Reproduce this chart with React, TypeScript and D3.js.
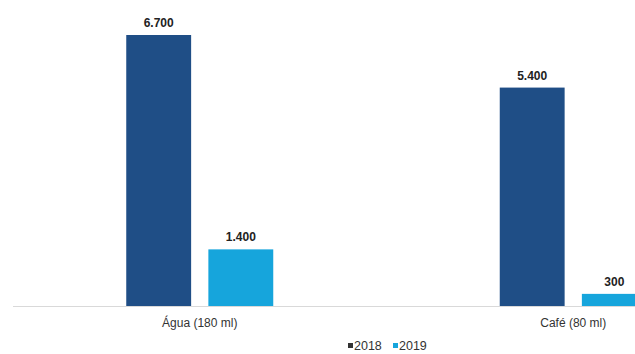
import React from "react";
import * as d3 from "d3";

const categories = ["Água (180 ml)", "Café (80 ml)"];
const seriesNames = ["2018", "2019"];
const values2018 = [6700, 5400];
const values2019 = [1400, 300];
const valueLabels2018 = ["6.700", "5.400"];
const valueLabels2019 = ["1.400", "300"];

const W = 635;
const H = 354;
const colors = ["#1f4e86", "#16a5dc"];

export default function App() {
  const x0 = d3.scaleBand<string>().domain(categories).range([13, 13 + 2 * 373.5]).paddingInner(0).paddingOuter(0);
  const groupW = 147;
  const x1 = d3.scaleBand<string>().domain(seriesNames).range([0, groupW]).paddingInner(0.21).paddingOuter(0);
  const y = d3.scaleLinear().domain([0, 6700]).range([306, 35]);
  const series = [
    { name: "2018", vals: values2018, labels: valueLabels2018, color: colors[0] },
    { name: "2019", vals: values2019, labels: valueLabels2019, color: colors[1] },
  ];
  const font = "'Liberation Sans', Arial, sans-serif";
  return (
    <svg
      width={W}
      height={H}
      style={{ position: "fixed", left: 0, top: 0, background: "#fff", overflow: "hidden" }}
      fontFamily={font}
    >
      <rect x={0} y={0} width={W} height={H} fill="#fff" />
      <line x1={13} x2={W} y1={306.5} y2={306.5} stroke="#d9d9d9" strokeWidth={1} />
      {categories.map((c, ci) => {
        const cx = (x0(c) as number) + x0.bandwidth() / 2;
        const gx = cx - groupW / 2;
        return (
          <g key={c}>
            {series.map((s) => {
              const bx = gx + (x1(s.name) as number);
              const by = y(s.vals[ci]);
              return (
                <g key={s.name}>
                  <rect x={bx} y={by} width={x1.bandwidth()} height={y(0) - by} fill={s.color} />
                  <text
                    x={bx + x1.bandwidth() / 2}
                    y={by - 8}
                    textAnchor="middle"
                    fontSize={12}
                    fontWeight="bold"
                    fill="#222"
                  >
                    {s.labels[ci]}
                  </text>
                </g>
              );
            })}
            <text x={cx} y={327} textAnchor="middle" fontSize={12} fill="#333">
              {c}
            </text>
          </g>
        );
      })}
      <g>
        <rect x={348} y={343} width={5} height={5} fill="#333" />
        <text x={354} y={350} fontSize={12.5} fill="#333">2018</text>
        <rect x={393} y={343} width={5} height={5} fill={colors[1]} />
        <text x={399} y={350} fontSize={12.5} fill="#333">2019</text>
      </g>
    </svg>
  );
}
